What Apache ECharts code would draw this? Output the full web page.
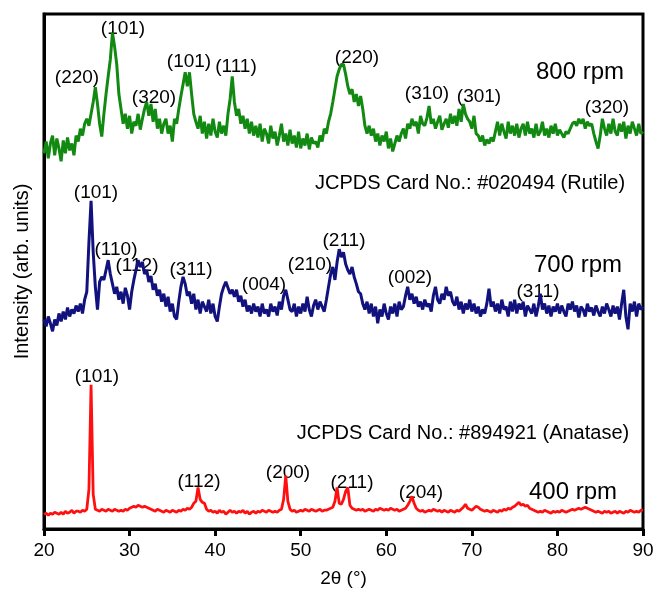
<!DOCTYPE html>
<html>
<head>
<meta charset="utf-8">
<script src="https://cdn.jsdelivr.net/npm/echarts@6/dist/echarts.min.js"></script>
<style>html,body{margin:0;padding:0;background:#fff;}#c{width:658px;height:593px;}</style>
</head>
<body>
<div id="c"></div>
<script>
// 2θ sample positions (degrees)
const twoTheta = [
20,20.25,20.5,20.75,21,21.25,21.5,21.75,22,22.25,22.5,22.75,23,23.25,23.5,23.75,24,24.25,24.5,24.75,
25,25.25,25.5,25.75,26,26.25,26.5,26.75,27,27.25,27.5,27.75,28,28.25,28.5,28.75,29,29.25,29.5,29.75,
30,30.25,30.5,30.75,31,31.25,31.5,31.75,32,32.25,32.5,32.75,33,33.25,33.5,33.75,34,34.25,34.5,34.75,
35,35.25,35.5,35.75,36,36.25,36.5,36.75,37,37.25,37.5,37.75,38,38.25,38.5,38.75,39,39.25,39.5,39.75,
40,40.25,40.5,40.75,41,41.25,41.5,41.75,42,42.25,42.5,42.75,43,43.25,43.5,43.75,44,44.25,44.5,44.75,
45,45.25,45.5,45.75,46,46.25,46.5,46.75,47,47.25,47.5,47.75,48,48.25,48.5,48.75,49,49.25,49.5,49.75,
50,50.25,50.5,50.75,51,51.25,51.5,51.75,52,52.25,52.5,52.75,53,53.25,53.5,53.75,54,54.25,54.5,54.75,
55,55.25,55.5,55.75,56,56.25,56.5,56.75,57,57.25,57.5,57.75,58,58.25,58.5,58.75,59,59.25,59.5,59.75,
60,60.25,60.5,60.75,61,61.25,61.5,61.75,62,62.25,62.5,62.75,63,63.25,63.5,63.75,64,64.25,64.5,64.75,
65,65.25,65.5,65.75,66,66.25,66.5,66.75,67,67.25,67.5,67.75,68,68.25,68.5,68.75,69,69.25,69.5,69.75,
70,70.25,70.5,70.75,71,71.25,71.5,71.75,72,72.25,72.5,72.75,73,73.25,73.5,73.75,74,74.25,74.5,74.75,
75,75.25,75.5,75.75,76,76.25,76.5,76.75,77,77.25,77.5,77.75,78,78.25,78.5,78.75,79,79.25,79.5,79.75,
80,80.25,80.5,80.75,81,81.25,81.5,81.75,82,82.25,82.5,82.75,83,83.25,83.5,83.75,84,84.25,84.5,84.75,
85,85.25,85.5,85.75,86,86.25,86.5,86.75,87,87.25,87.5,87.75,88,88.25,88.5,88.75,89,89.25,89.5,89.75,
90];

// Intensities (arbitrary units, stacked with offsets as in the figure)
const rpm800 = [
380,392,375,390, 398,378,395,385, 372,393,380,396, 383,390,378,398, 392,405,398,410,
415,408,420,432, 447,430,410,397, 420,440,458,475, 502,488,470,440, 425,410,420,405,
418,400,412,408, 420,404,415,425, 432,418,430,412, 425,405,415,400, 410,415,400,408,
392,415,410,425, 438,450,462,448, 462,440,420,412, 405,418,400,412, 395,410,398,415,
402,396,412,400, 408,398,420,435, 458,432,418,425, 410,418,405,415, 400,412,398,408,
396,410,392,405, 400,390,408,395, 402,388,398,410, 392,400,388,404, 390,398,386,402,
385,395,388,400, 384,396,390,392, 386,398,392,405, 400,412,420,432, 445,458,465,470,
470,460,448,440, 445,432,440,428, 438,425,408,400, 408,398,405,392, 400,388,398,392,
402,385,395,382, 390,398,392,400, 405,395,410,405, 415,408,412,400, 418,410,408,416,
428,410,415,405, 412,418,404,410, 415,406,420,410, 418,408,425,412, 430,420,415,412,
405,418,400,398, 392,398,388,394, 390,396,392,402, 412,398,410,402, 395,412,400,408,
398,410,396,405, 410,398,412,400, 405,396,410,398, 402,412,398,405, 396,408,400,410,
398,404,400,396, 402,400,405,410, 412,408,415,410, 415,405,412,408, 410,400,392,385,
398,415,405,398, 410,400,415,402, 398,410,402,412, 395,408,400,412, 405,398,410,400,
402];

const rpm700 = [
212,205,215,208, 200,212,206,218, 210,220,212,224, 215,222,218,226, 220,228,218,232,
240,290,332,280, 245,222,250,255, 252,262,272,258, 248,238,245,232, 240,228,244,236,
222,240,252,262, 272,265,270,258, 262,250,256,242, 248,236,242,230, 238,225,235,220,
228,215,212,230, 245,255,248,236, 240,228,238,222, 232,218,230,225, 220,232,218,228,
215,210,225,238, 245,250,244,238, 242,235,242,230, 236,225,232,220, 226,218,228,220,
225,215,228,218, 222,215,228,220, 225,216,230,222, 236,242,232,222, 220,228,215,225,
218,228,220,235, 222,215,226,232, 222,230,225,220, 232,245,258,265, 252,270,283,275,
280,268,262,258, 265,255,248,240, 238,228,222,230, 218,228,215,225, 208,222,215,228,
218,212,225,218, 228,215,230,222, 225,236,245,232, 238,228,235,225, 230,222,232,225,
228,220,236,245, 232,228,238,232, 245,236,240,230, 226,235,222,230, 218,228,222,232,
220,228,218,225, 215,222,218,228, 243,225,230,220, 228,218,232,222, 225,215,230,220,
232,218,228,222, 230,215,226,222, 218,228,215,225, 238,222,228,218, 226,215,225,220,
228,218,226,220, 215,228,222,230, 220,226,214,225, 222,215,228,220, 224,216,226,220,
215,225,218,228, 222,215,226,218, 225,212,228,242, 215,202,228,220, 230,215,228,222,
225];

const rpm400 = [
15,16,14,16, 15,17,16,15, 17,15,18,16, 17,19,16,18, 18,17,19,18,
20,40,146,35, 20,19,18,20, 19,18,20,19, 18,20,19,18, 19,18,20,19,
21,22,23,22, 24,23,22,23, 22,21,20,19, 18,20,19,18, 17,19,18,17,
19,18,17,19, 18,20,19,21, 20,22,26,28, 42,30,27,26, 20,18,19,17,
18,16,19,17, 18,15,17,19, 17,18,16,18, 17,19,16,18, 15,17,18,16,
18,17,19,18, 17,19,18,17, 18,17,19,20, 30,54,28,20, 18,19,17,18,
19,18,20,19, 18,20,19,18, 19,20,18,19, 19,20,21,22, 28,42,26,25,
30,38,42,24, 21,20,19,20, 19,20,18,19, 20,19,18,20, 19,21,20,19,
20,19,21,20, 19,20,18,19, 20,21,24,28, 33,26,21,19, 18,19,17,18,
19,18,20,19, 18,19,17,19, 18,17,19,18, 17,19,18,20, 22,25,21,20,
19,21,23,22, 20,19,18,19, 18,17,19,18, 17,19,18,20, 19,21,20,22,
23,25,27,24, 25,23,24,21, 20,19,18,17, 18,17,19,18, 17,16,18,17,
18,17,19,18, 17,18,19,20, 19,20,21,20, 21,22,21,20, 19,18,17,18,
17,16,18,17, 18,16,17,18, 16,18,17,16, 18,17,19,18, 17,18,17,19,
19];

const xTicks = [20, 30, 40, 50, 60, 70, 80, 90];

const FONT = '"Liberation Sans", Arial, Helvetica, sans-serif';

function pairs(vals) { return twoTheta.map((x, i) => [x, vals[i]]); }

function txt(x, y, s, size) {
  return {
    type: 'text', x: x, y: y, silent: true,
    style: {
      text: s, fill: '#000',
      font: 'normal ' + size + 'px ' + FONT,
      textAlign: 'center', textVerticalAlign: 'middle',
      align: 'center', verticalAlign: 'middle'
    }
  };
}

const chart = echarts.init(document.getElementById('c'), null, {renderer: 'canvas'});
chart.setOption({
  animation: false,
  backgroundColor: '#fff',
  grid: {left: 44, right: 15, top: 14, bottom: 58, show: true, borderColor: '#000', borderWidth: 3, backgroundColor: 'transparent'},
  xAxis: {
    type: 'value', min: 20, max: 90, interval: 10,
    name: '2θ (°)', nameLocation: 'middle', nameGap: 40,
    nameTextStyle: {color: '#000', fontSize: 19, fontFamily: FONT},
    axisLine: {show: true, lineStyle: {color: '#000', width: 3}},
    axisTick: {show: true, inside: false, length: 7, lineStyle: {color: '#000', width: 3}},
    axisLabel: {color: '#000', fontSize: 19, fontFamily: FONT, margin: 12,
      formatter: v => xTicks.indexOf(v) >= 0 ? String(v) : ''},
    splitLine: {show: false}
  },
  yAxis: {
    type: 'value', min: 0, max: 521,
    name: 'Intensity (arb. units)', nameLocation: 'middle', nameGap: 12, nameRotate: 90,
    nameTextStyle: {color: '#000', fontSize: 20, fontFamily: FONT},
    axisLine: {show: true, lineStyle: {color: '#000', width: 3}},
    axisTick: {show: false}, axisLabel: {show: false}, splitLine: {show: false}
  },
  series: [
    {name: '800 rpm', type: 'line', data: pairs(rpm800), showSymbol: false, symbol: 'none',
     lineStyle: {color: '#128a12', width: 3}, z: 3},
    {name: '700 rpm', type: 'line', data: pairs(rpm700), showSymbol: false, symbol: 'none',
     lineStyle: {color: '#12127f', width: 3}, z: 3},
    {name: '400 rpm', type: 'line', data: pairs(rpm400), showSymbol: false, symbol: 'none',
     lineStyle: {color: '#ff1010', width: 2.8}, z: 3}
  ],
  graphic: [
    // 800 rpm (rutile) reflections
    txt(77, 78, '(220)', 19), txt(123, 29, '(101)', 19), txt(154, 98, '(320)', 19),
    txt(189, 62, '(101)', 19), txt(236, 67, '(111)', 19), txt(357, 58, '(220)', 19),
    txt(427, 94, '(310)', 19), txt(479, 97, '(301)', 19), txt(607, 108, '(320)', 19),
    txt(580, 72, '800 rpm', 24),
    txt(470, 183, 'JCPDS Card No.: #020494 (Rutile)', 20),
    // 700 rpm
    txt(96, 193, '(101)', 19), txt(116, 250, '(110)', 19), txt(137, 266, '(112)', 19),
    txt(191, 270, '(311)', 19), txt(264, 285, '(004)', 19), txt(310, 265, '(210)', 19),
    txt(344, 241, '(211)', 19), txt(410, 278, '(002)', 19), txt(538, 292, '(311)', 19),
    txt(578, 265, '700 rpm', 24),
    // 400 rpm (anatase)
    txt(97, 377, '(101)', 19), txt(199, 482, '(112)', 19), txt(288, 473, '(200)', 19),
    txt(352, 483, '(211)', 19), txt(421, 493, '(204)', 19),
    txt(573, 492, '400 rpm', 24),
    txt(463, 433, 'JCPDS Card No.: #894921 (Anatase)', 20)
  ]
});
</script>
</body>
</html>
